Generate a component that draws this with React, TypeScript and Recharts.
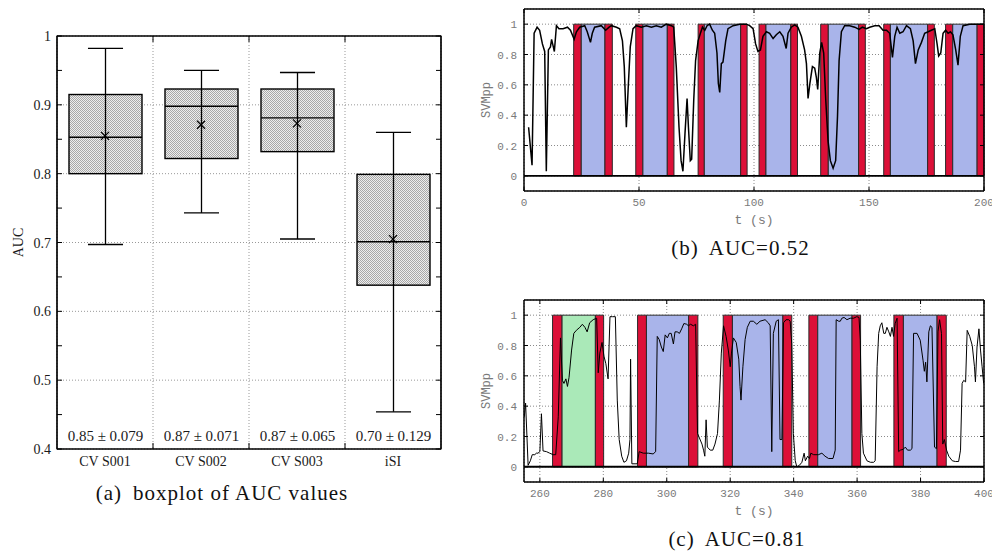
import React from "react";
import {
  ComposedChart,
  LineChart,
  Line,
  Bar,
  Scatter,
  XAxis,
  YAxis,
  CartesianGrid,
  ReferenceArea,
  ReferenceLine,
  Label,
} from "recharts";

// ---------- (a) boxplot of AUC values ----------
const groups = ["CV S001", "CV S002", "CV S003", "iSI"];
const whiskerLow = [0.697, 0.743, 0.705, 0.454];
const quart1 = [0.8, 0.822, 0.832, 0.638];
const medians = [0.853, 0.898, 0.881, 0.701];
const quart3 = [0.915, 0.923, 0.923, 0.799];
const whiskerHigh = [0.982, 0.95, 0.947, 0.86];
const means = [0.855, 0.871, 0.873, 0.705];
const meanStd = ["0.85 ± 0.079", "0.87 ± 0.071", "0.87 ± 0.065", "0.70 ± 0.129"];

const aucMajor = [0.4, 0.5, 0.6, 0.7, 0.8, 0.9, 1];
const aucAll = [0.4, 0.45, 0.5, 0.55, 0.6, 0.65, 0.7, 0.75, 0.8, 0.85, 0.9, 0.95, 1];
const groupEdges = [1, 2, 3];
const groupTicks = [0.5, 1, 1.5, 2, 2.5, 3, 3.5];

// ---------- (b) AUC=0.52 ----------
const bTime = [
  2.0, 3.5, 4.4, 5.7, 6.8, 8.0, 9.0, 9.7, 10.6, 11.5,
  12.0, 12.6, 13.2, 14.1, 15.2, 17.0, 18.9, 20.2, 21.8, 22.8,
  24.2, 26.4, 27.5, 28.9, 29.7, 30.7, 33.6, 35.5, 37.0, 38.0,
  40.2, 41.6, 42.8, 43.6, 44.5, 45.4, 46.2, 47.4, 48.8, 51.0,
  53.2, 55.4, 57.5, 59.7, 61.9, 64.1, 65.1, 66.2, 67.4, 68.3,
  69.1, 70.0, 70.9, 71.5, 72.3, 72.9, 73.8, 74.6, 75.7, 76.7,
  77.6, 78.6, 79.6, 80.7, 81.9, 82.9, 83.9, 84.5, 85.1, 85.8,
  86.5, 87.7, 88.7, 90.9, 93.8, 96.7, 98.1, 99.6, 100.7, 101.7,
  102.8, 103.9, 105.4, 106.8, 108.3, 109.7, 111.2, 112.6, 114.0, 114.8,
  116.2, 117.7, 119.1, 120.6, 122.0, 122.8, 123.5, 124.3, 125.4, 126.4,
  127.1, 127.7, 128.6, 129.4, 130.3, 131.2, 132.2, 133.2, 134.4, 135.5,
  136.3, 137.0, 138.0, 139.4, 141.6, 143.8, 145.7, 147.1, 148.9, 150.3,
  152.5, 154.4, 156.1, 157.6, 159.0, 160.2, 161.2, 162.2, 163.4, 164.8,
  166.3, 168.0, 169.2, 170.2, 171.4, 172.8, 174.2, 175.7, 177.1, 178.6,
  179.6, 180.3, 181.2, 182.2, 183.3, 184.4, 185.4, 186.5, 187.7, 188.7,
  189.7, 190.9, 193.8, 198.1, 200.0,
];
const bValue = [
  0.32, 0.07, 0.94, 0.98, 0.96, 0.87, 0.82, 0.03, 0.83, 0.85,
  0.9, 0.86, 0.82, 0.99, 0.97, 0.97, 0.98, 0.96, 0.9, 0.95,
  0.98, 0.99, 0.95, 0.88, 0.94, 0.98, 0.99, 0.96, 0.98, 0.99,
  0.98, 0.97, 0.89, 0.72, 0.32, 0.61, 0.85, 0.97, 0.99, 0.98,
  0.99, 0.98, 0.99, 0.98, 1.0, 0.99, 0.98, 0.72, 0.32, 0.1,
  0.03, 0.28, 0.51, 0.32, 0.1, 0.11, 0.5, 0.76, 0.89, 0.94,
  0.98, 0.96, 0.99, 1.0, 0.96, 0.94, 0.81, 0.61, 0.55, 0.74,
  0.75, 0.89, 0.97, 0.99, 1.0, 1.0, 0.99, 0.97, 0.87, 0.82,
  0.83, 0.92, 0.95, 0.94, 0.905, 0.93, 0.95, 0.92, 0.84, 0.94,
  0.98, 0.995, 0.98, 0.92, 0.83, 0.74, 0.51, 0.61, 0.72, 0.71,
  0.65, 0.57, 0.81, 0.88, 0.81, 0.5, 0.23, 0.1, 0.05, 0.1,
  0.39, 0.76, 0.95, 0.99, 0.99, 0.98, 0.965, 0.98, 0.97, 0.98,
  0.99, 0.99, 0.96, 0.96, 0.94, 0.78, 0.92, 0.98, 0.94, 0.95,
  0.99, 0.97, 0.89, 0.74, 0.83, 0.88, 0.94, 0.95, 0.96, 0.97,
  0.87, 0.79, 0.81, 0.94, 0.96, 0.94, 0.95, 0.93, 0.83, 0.73,
  0.92, 0.99, 1.0, 1.0, 1.0,
];
const bOnset = [21.6, 48.6, 75.7, 102.2, 129.0, 156.4, 183.3];
const bInner = [24.9, 51.7, 78.4, 105.2, 132.3, 159.3, 186.4];
const bOuter = [35.2, 62.3, 94.2, 116.0, 145.5, 175.5, 197.0];
const bOffset = [38.4, 65.2, 97.0, 118.9, 148.4, 178.4, 200.0];
const bKind = ["task", "task", "task", "task", "task", "task", "task"];
const bTicks = [0, 50, 100, 150, 200];

// ---------- (c) AUC=0.81 ----------
const cTime = [
  255.1, 255.5, 256.3, 257.0, 257.6, 258.4, 258.9, 259.4, 260.0, 260.5,
  261.0, 262.1, 263.1, 264.2, 265.0, 265.8, 266.5, 267.1, 267.6, 268.2,
  268.7, 269.2, 270.0, 270.7, 271.5, 272.6, 273.4, 274.2, 274.9, 275.7,
  276.8, 277.9, 278.4, 278.9, 279.6, 280.2, 280.8, 281.5, 282.1, 282.9,
  283.8, 284.4, 285.0, 285.8, 286.5, 287.3, 288.0, 288.4, 288.6, 289.0,
  290.0, 290.7, 291.3, 292.6, 294.2, 295.7, 296.5, 297.0, 297.6, 298.3,
  298.9, 299.5, 300.2, 300.8, 301.4, 302.1, 302.6, 303.3, 304.0, 304.7,
  305.4, 306.3, 306.8, 307.5, 308.4, 309.1, 309.7, 310.3, 311.1, 311.6,
  312.0, 312.4, 312.8, 313.7, 314.5, 315.2, 316.0, 316.6, 317.2, 317.9,
  318.7, 319.4, 320.0, 320.4, 321.0, 321.9, 322.7, 323.1, 323.4, 324.0,
  324.7, 325.4, 326.3, 327.3, 328.4, 329.4, 331.0, 332.0, 332.6, 333.1,
  333.6, 334.5, 335.2, 335.7, 336.3, 336.8, 337.6, 338.4, 338.9, 339.4,
  339.9, 340.5, 341.0, 341.8, 342.6, 343.3, 343.7, 344.4, 345.0, 345.4,
  346.3, 347.8, 348.9, 349.9, 351.0, 352.4, 353.1, 353.4, 354.2, 354.7,
  355.2, 355.9, 356.8, 357.8, 358.9, 359.9, 360.6, 361.0, 361.5, 362.0,
  363.1, 364.2, 365.2, 365.7, 366.3, 366.8, 367.3, 367.8, 368.4, 368.9,
  369.4, 370.0, 370.5, 371.0, 371.5, 372.0, 372.6, 373.1, 373.6, 374.5,
  375.2, 375.9, 376.8, 377.3, 377.8, 378.9, 379.9, 380.8, 381.2, 381.6,
  382.0, 382.6, 383.1, 383.6, 384.4, 385.0, 385.5, 386.0, 386.6, 387.0,
  387.5, 388.2, 388.9, 390.0, 391.0, 392.0, 392.6, 393.1, 393.6, 394.2,
  394.7, 395.5, 396.3, 397.0, 397.3, 397.8, 398.4, 398.9, 399.4, 399.9,
];
const cValue = [
  0.33, 0.42, 0.01, 0.04, 0.08, 0.08, 0.09, 0.09, 0.1, 0.35,
  0.105, 0.1, 0.09, 0.08, 0.08, 0.33, 0.85, 0.57, 0.55, 0.58,
  0.53, 0.59, 0.77, 0.88, 0.9, 0.92, 0.94, 0.92, 0.89, 0.95,
  0.97, 0.98, 0.62, 0.75, 0.82, 0.73, 0.68, 0.58, 0.99, 0.99,
  0.99, 0.44, 0.18, 0.07, 0.03, 0.04, 0.09, 0.18, 0.71, 0.02,
  0.02, 0.02, 0.1, 0.09, 0.09, 0.085, 0.1, 0.86, 0.84, 0.79,
  0.76, 0.87, 0.85, 0.88, 0.88, 0.81, 0.89, 0.89, 0.88, 0.91,
  0.945, 0.94, 0.93, 0.94, 0.93, 0.94, 0.22, 0.19, 0.15, 0.11,
  0.07, 0.31, 0.13, 0.11, 0.11, 0.15, 0.22, 0.44, 0.75, 0.93,
  0.86, 0.77, 0.66, 0.75, 0.85, 0.82, 0.71, 0.53, 0.44, 0.66,
  0.84, 0.92, 0.96, 0.96, 0.94, 0.96, 0.97, 0.95, 0.93, 0.1,
  0.88, 0.96, 0.97, 0.18, 0.18, 0.95, 0.97, 0.97, 0.96, 0.81,
  0.22, 0.04, 0.0, 0.01, 0.03, 0.09, 0.04, 0.07, 0.055, 0.09,
  0.08, 0.08, 0.09, 0.07, 0.055, 0.055, 0.11, 0.97, 0.96, 0.96,
  0.98, 0.985, 0.97, 0.98, 0.98, 0.99, 0.985, 0.835, 0.22, 0.09,
  0.04, 0.03, 0.03, 0.04, 0.66, 0.88, 0.93, 0.95, 0.88, 0.88,
  0.92, 0.89, 0.86, 0.92, 0.86, 0.945, 0.98, 0.1, 0.11, 0.115,
  0.13, 0.11, 0.11, 0.12, 0.88, 0.88, 0.835, 0.7, 0.63, 0.69,
  0.56, 0.89, 0.93, 0.92, 0.13, 0.12, 0.89, 0.97, 0.88, 0.15,
  0.18, 0.11, 0.07, 0.04, 0.035, 0.035, 0.11, 0.55, 0.57, 0.56,
  0.9, 0.86, 0.8, 0.66, 0.56, 0.79, 0.91, 0.77, 0.66, 0.55,
];
const cOnset = [264.0, 290.8, 317.8, 344.8, 371.6];
const cInner = [267.0, 293.6, 320.7, 347.6, 374.6];
const cOuter = [277.5, 306.9, 336.6, 358.4, 385.2];
const cOffset = [280.1, 309.8, 339.4, 361.1, 388.1];
const cKind = ["rest", "task", "task", "task", "task"];
const cTicks = [260, 280, 300, 320, 340, 360, 380, 400];

const svmTicks = [0, 0.2, 0.4, 0.6, 0.8, 1];

const serif = '"Liberation Serif", "Times New Roman", serif';
const mono = '"Liberation Mono", "Courier New", monospace';
const RED = "#dc1038";
const BLUE = "#a9b4ea";
const GREEN = "#aae9b8";
const GRAY_TXT = "#7a7a7a";

const boxData = groups.map((name, i) => ({
  name,
  slot: i + 0.5,
  range: [whiskerLow[i], whiskerHigh[i]],
  lo: whiskerLow[i],
  hi: whiskerHigh[i],
  q1: quart1[i],
  med: medians[i],
  q3: quart3[i],
  mean: means[i],
  note: meanStd[i],
}));

const bData = bTime.map((t, i) => ({ t, v: bValue[i] }));
const cData = cTime.map((t, i) => ({ t, v: cValue[i] }));

const isMajor = (v: number) => Math.abs(v * 10 - Math.round(v * 10)) < 1e-6;
const fmt1 = (v: number) => (v === 0 ? "0" : v === 1 ? "1" : v.toFixed(1));

// box + whiskers drawn from the range bar (whisker low..high)
const BoxShape = (props: any) => {
  const { x, y, width, height, payload } = props;
  if (!payload) return null;
  const top = Math.min(y, y + height);
  const h = Math.abs(height);
  const py = (v: number) => top + (h * (payload.hi - v)) / (payload.hi - payload.lo);
  const cx = x + width / 2;
  const cap = width * 0.24;
  const axisMin = aucAll[0];
  return (
    <g>
      <rect
        x={x}
        y={py(payload.q3)}
        width={width}
        height={py(payload.q1) - py(payload.q3)}
        fill="url(#hatch)"
        stroke="#000"
        strokeWidth={1.4}
      />
      <line x1={cx} x2={cx} y1={py(payload.hi)} y2={py(payload.lo)} stroke="#000" strokeWidth={1.3} />
      <line x1={cx - cap} x2={cx + cap} y1={py(payload.hi)} y2={py(payload.hi)} stroke="#000" strokeWidth={1.4} />
      <line x1={cx - cap} x2={cx + cap} y1={py(payload.lo)} y2={py(payload.lo)} stroke="#000" strokeWidth={1.4} />
      <line x1={x} x2={x + width} y1={py(payload.med)} y2={py(payload.med)} stroke="#000" strokeWidth={1.4} />
      <text
        x={cx}
        y={py(axisMin) - 8.5}
        textAnchor="middle"
        fontFamily={serif}
        fontSize={15}
        fill="#1a1a1a"
      >
        {payload.note}
      </text>
    </g>
  );
};

const MeanCross = (props: any) => {
  const { cx, cy } = props;
  const s = 4;
  return (
    <g>
      <line x1={cx - s} x2={cx + s} y1={cy - s} y2={cy + s} stroke="#000" strokeWidth={1.2} />
      <line x1={cx - s} x2={cx + s} y1={cy + s} y2={cy - s} stroke="#000" strokeWidth={1.2} />
    </g>
  );
};

const AucLeftTick = ({ x, y, payload }: any) => (
  <g>
    <line x1={x} x2={x + 5} y1={y} y2={y} stroke="#000" />
    {isMajor(payload.value) && (
      <text x={x - 6} y={y + 5} textAnchor="end" fontFamily={serif} fontSize={14} fill="#1a1a1a">
        {payload.value === 1 ? "1" : payload.value.toFixed(1)}
      </text>
    )}
  </g>
);

const RightTick = (len: number) => ({ x, y }: any) => (
  <line x1={x} x2={x - len} y1={y} y2={y} stroke="#000" />
);
const TopTick = (len: number) => ({ x, y }: any) => (
  <line x1={x} x2={x} y1={y} y2={y + len} stroke="#000" />
);

const GroupTick = ({ x, y, payload }: any) => {
  const v = payload.value;
  if (Number.isInteger(v)) return <line x1={x} x2={x} y1={y} y2={y - 6} stroke="#000" />;
  return (
    <text x={x} y={y + 17} textAnchor="middle" fontFamily={serif} fontSize={14} fill="#1a1a1a">
      {groups[Math.floor(v)]}
    </text>
  );
};

const MonoBottomTick = ({ x, y, payload }: any) => (
  <g>
    <line x1={x} x2={x} y1={y} y2={y - 4} stroke="#000" />
    <text x={x} y={y + 15} textAnchor="middle" fontFamily={mono} fontSize={11} fill={GRAY_TXT}>
      {payload.value}
    </text>
  </g>
);

const MonoLeftTick = ({ x, y, payload }: any) => (
  <g>
    <line x1={x} x2={x + 4} y1={y} y2={y} stroke="#000" />
    <text x={x - 7} y={y + 4} textAnchor="end" fontFamily={mono} fontSize={11} fill={GRAY_TXT}>
      {fmt1(payload.value)}
    </text>
  </g>
);

const blockAreas = (on: number[], inn: number[], out: number[], off: number[], kind: string[]) =>
  on.flatMap((s, i) => {
    const common = { y1: 0, y2: 1, fillOpacity: 1, stroke: "#2a2a2a", strokeWidth: 1, ifOverflow: "visible" as const };
    return [
      <ReferenceArea key={`a${i}`} x1={s} x2={inn[i]} fill={RED} {...common} />,
      <ReferenceArea key={`m${i}`} x1={inn[i]} x2={out[i]} fill={kind[i] === "rest" ? GREEN : BLUE} {...common} />,
      <ReferenceArea key={`z${i}`} x1={out[i]} x2={off[i]} fill={RED} {...common} />,
    ];
  });

const frameLine = { stroke: "#000", strokeWidth: 1.5 };
const boxFrame = { stroke: "#000", strokeWidth: 1.2 };

const TracePanel = ({
  data,
  domain,
  ticks,
  areas,
  lineWidth,
  baseWidth,
}: {
  data: { t: number; v: number }[];
  domain: [number, number];
  ticks: number[];
  areas: React.ReactNode[];
  lineWidth: number;
  baseWidth: number;
}) => (
  <LineChart width={512} height={232} data={data} margin={{ top: 8, right: 7, bottom: 16, left: 0 }}>
    <CartesianGrid stroke="#8a8a8a" strokeDasharray="1 2" />
    <XAxis
      xAxisId={0}
      dataKey="t"
      type="number"
      domain={domain}
      ticks={ticks}
      interval={0}
      height={25}
      tickSize={0}
      tickMargin={0}
      tickLine={false}
      tick={MonoBottomTick}
      axisLine={frameLine}
      allowDataOverflow
    >
      <Label value="t (s)" position="bottom" offset={-1} fontFamily={mono} fontSize={13} fill={GRAY_TXT} />
    </XAxis>
    <XAxis
      xAxisId="top"
      orientation="top"
      dataKey="t"
      type="number"
      domain={domain}
      ticks={ticks}
      interval={0}
      height={1}
      tickSize={0}
      tickMargin={0}
      tickLine={false}
      tick={TopTick(4)}
      axisLine={frameLine}
      allowDataOverflow
    />
    <YAxis
      yAxisId={0}
      type="number"
      domain={[-0.1, 1.1]}
      ticks={svmTicks}
      interval={0}
      width={44}
      tickSize={0}
      tickMargin={0}
      tickLine={false}
      tick={MonoLeftTick}
      axisLine={frameLine}
      allowDataOverflow
    >
      <Label
        value="SVMpp"
        angle={-90}
        position="insideLeft"
        offset={6}
        fontFamily={mono}
        fontSize={12}
        fill={GRAY_TXT}
        style={{ textAnchor: "middle" }}
      />
    </YAxis>
    <YAxis
      yAxisId="r"
      orientation="right"
      type="number"
      domain={[-0.1, 1.1]}
      ticks={svmTicks}
      interval={0}
      width={1}
      tickSize={0}
      tickMargin={0}
      tickLine={false}
      tick={RightTick(4)}
      axisLine={frameLine}
      allowDataOverflow
    />
    {areas}
    <ReferenceLine y={0} stroke="#000" strokeWidth={baseWidth} />
    <Line
      dataKey="v"
      type="linear"
      stroke="#000"
      strokeWidth={lineWidth}
      dot={false}
      activeDot={false}
      isAnimationActive={false}
    />
  </LineChart>
);

const captionStyle: React.CSSProperties = {
  position: "absolute",
  textAlign: "center",
  fontFamily: serif,
  fontSize: 21,
  letterSpacing: 1,
  lineHeight: "24px",
  color: "#111",
  whiteSpace: "nowrap",
};

export default function App() {
  return (
    <div style={{ position: "absolute", left: 0, top: 0, width: 992, height: 553, background: "#fff", overflow: "hidden" }}>
      <div style={{ position: "absolute", left: 0, top: 0 }}>
        <ComposedChart width={470} height={480} data={boxData} margin={{ top: 35, right: 28, bottom: 1, left: 7 }}>
          <defs>
            <pattern id="hatch" width="2" height="2" patternUnits="userSpaceOnUse">
              <rect width="2" height="2" fill="#eeeeee" />
              <rect width="1" height="1" fill="#a8a8a8" />
              <rect x="1" y="1" width="1" height="1" fill="#a8a8a8" />
            </pattern>
          </defs>
          <CartesianGrid xAxisId="top" yAxisId={1} stroke="#999" strokeDasharray="1 2" />
          <XAxis
            xAxisId={0}
            dataKey="slot"
            type="number"
            domain={[0, 4]}
            ticks={groupTicks}
            interval={0}
            height={30}
            tickSize={0}
            tickMargin={0}
            tickLine={false}
            tick={GroupTick}
            axisLine={boxFrame}
            allowDataOverflow
          />
          <XAxis
            xAxisId="top"
            orientation="top"
            dataKey="slot"
            type="number"
            domain={[0, 4]}
            ticks={groupEdges}
            interval={0}
            height={1}
            tickSize={0}
            tickMargin={0}
            tickLine={false}
            tick={TopTick(6)}
            axisLine={boxFrame}
            allowDataOverflow
          />
          <YAxis
            yAxisId={0}
            type="number"
            domain={[0.4, 1]}
            ticks={aucAll}
            interval={0}
            width={50}
            tickSize={0}
            tickMargin={0}
            tickLine={false}
            tick={AucLeftTick}
            axisLine={boxFrame}
            allowDataOverflow
          >
            <Label
              value="AUC"
              angle={-90}
              position="insideLeft"
              offset={11}
              fontFamily={serif}
              fontSize={14}
              fill="#1a1a1a"
              style={{ textAnchor: "middle" }}
            />
          </YAxis>
          <YAxis yAxisId={1} type="number" domain={[0.4, 1]} ticks={aucMajor} hide allowDataOverflow />
          <YAxis
            yAxisId="r"
            orientation="right"
            type="number"
            domain={[0.4, 1]}
            ticks={aucAll}
            interval={0}
            width={1}
            tickSize={0}
            tickMargin={0}
            tickLine={false}
            tick={RightTick(5)}
            axisLine={boxFrame}
            allowDataOverflow
          />
          <XAxis xAxisId="cat" dataKey="name" type="category" hide />
          <ReferenceArea
            xAxisId="top"
            yAxisId={0}
            x1={0}
            x2={4}
            y1={0.4}
            y2={1}
            fill="none"
            stroke="#000"
            strokeWidth={1.2}
            ifOverflow="visible"
          />
          <Bar
            dataKey="range"
            xAxisId="cat"
            yAxisId={0}
            barSize={73}
            shape={(p: any) => <BoxShape {...p} />}
            isAnimationActive={false}
          />
          <Scatter
            dataKey="mean"
            xAxisId="cat"
            yAxisId={0}
            shape={(p: any) => <MeanCross {...p} />}
            isAnimationActive={false}
          />
        </ComposedChart>
      </div>
      <div style={{ ...captionStyle, left: 0, width: 444, top: 481 }}>
        (a)<span style={{ marginLeft: 11 }}>boxplot of AUC values</span>
      </div>

      <div style={{ position: "absolute", left: 480, top: 0 }}>
        <TracePanel
          data={bData}
          domain={[0, 200]}
          ticks={bTicks}
          areas={blockAreas(bOnset, bInner, bOuter, bOffset, bKind)}
          lineWidth={1.5}
          baseWidth={1.6}
        />
      </div>
      <div style={{ ...captionStyle, left: 640, width: 201, top: 236 }}>
        (b)<span style={{ marginLeft: 10 }}>AUC=0.52</span>
      </div>

      <div style={{ position: "absolute", left: 480, top: 291 }}>
        <TracePanel
          data={cData}
          domain={[255, 400]}
          ticks={cTicks}
          areas={blockAreas(cOnset, cInner, cOuter, cOffset, cKind)}
          lineWidth={1}
          baseWidth={2}
        />
      </div>
      <div style={{ ...captionStyle, left: 637, width: 200, top: 527 }}>
        (c)<span style={{ marginLeft: 10 }}>AUC=0.81</span>
      </div>
    </div>
  );
}
